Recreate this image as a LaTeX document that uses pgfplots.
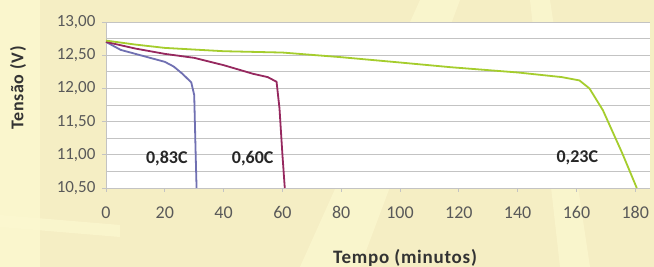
\documentclass[border=0pt]{standalone}
\usepackage{pgfplots}
\pgfplotsset{compat=1.18}
\usepackage{fontspec}
\setmainfont{Carlito}
\newfontfamily\lblfont[LetterSpace=4]{Carlito}
\usetikzlibrary{backgrounds}
\definecolor{bgyel}{RGB}{245,238,196}
\definecolor{bglight}{RGB}{252,248,208}
\definecolor{cblue}{RGB}{112,112,178}
\definecolor{cred}{RGB}{150,40,95}
\definecolor{cgreen}{RGB}{165,205,45}
\definecolor{gridc}{RGB}{195,195,195}
\begin{document}
\begin{tikzpicture}[x=1pt,y=1pt]
\begin{axis}[name=ax,
  scale only axis, width=544pt, height=166pt,
  xmin=0, xmax=185, ymin=10.5, ymax=13,
  xtick={0,20,...,180},
  ytick={10.5,11,...,13},
  minor y tick num=1,
  ymajorgrids, yminorgrids,
  grid style={gridc, line width=0.8pt},
  minor grid style={gridc, line width=0.8pt},
  axis x line*=bottom, axis y line*=left,
  axis line style={gridc, line width=0.8pt},
  tick style={gridc, line width=0.8pt},
  minor y tick style={draw=none},
  tick align=outside, major tick length=4pt,
  axis background/.style={fill=white},
  /pgf/number format/.cd, use comma, fixed, assume math mode=true,
  /pgfplots/.cd,
  yticklabel={\pgfmathprintnumber[fixed,fixed zerofill,precision=2,use comma]{\tick}},
  xticklabel style={font=\fontsize{18}{20}\selectfont, text=black!65, yshift=-11pt},
  yticklabel style={font=\fontsize{17}{19}\selectfont, text=black!65, xshift=-3pt},
  clip=false,
]
\addplot[cblue, line width=1.8pt] coordinates {
 (0,12.70) (5,12.58) (10,12.52) (15,12.46) (20,12.40) (23,12.33) (26,12.22) (29,12.09) (30,11.90) (30.5,11.0) (30.8,10.5)};
\addplot[cred, line width=1.8pt] coordinates {
 (0,12.70) (10,12.60) (20,12.52) (30,12.46) (40,12.35) (50,12.22) (55,12.17) (58,12.10) (59,11.70) (60,11.0) (60.8,10.5)};
\addplot[cgreen, line width=1.8pt] coordinates {
 (0,12.72) (10,12.66) (20,12.61) (40,12.56) (60,12.54) (80,12.47) (100,12.39) (117,12.32) (140,12.24) (155,12.17) (161,12.12) (164.4,12.0) (169,11.67) (175.6,11.02) (180.5,10.5)};
\node[font=\fontsize{18}{20}\selectfont\bfseries, text=black!85] at (axis cs:20.7,10.95) {0,83C};
\node[font=\fontsize{18}{20}\selectfont\bfseries, text=black!85] at (axis cs:49.9,10.95) {0,60C};
\node[font=\fontsize{18}{20}\selectfont\bfseries, text=black!85] at (axis cs:160.3,10.95) {0,23C};
\end{axis}
\node[font=\fontsize{19}{21}\lblfont\bfseries, text=black!80] at ([shift={(299pt,-70pt)}]ax.south west) {Tempo (minutos)};
\node[font=\fontsize{18}{20}\lblfont\bfseries, text=black!80, rotate=90] at ([shift={(-88pt,100pt)}]ax.south west) {Tensão (V)};
\begin{pgfonlayer}{background}
\fill[bgyel] ([shift={(-106pt,-79pt)}]ax.south west) rectangle ++(654pt,267pt);
\fill[bglight, opacity=0.8] ([shift={(-106pt,-79pt)}]ax.south west) rectangle ++(40pt,267pt);
\fill[bglight, opacity=0.7] ([shift={(-106pt,-79pt)}]ax.south west) ++(300pt,0) -- ++(60pt,0) -- ++(100pt,267pt) -- ++(-40pt,0) -- cycle;
\fill[bglight, opacity=0.7] ([shift={(-106pt,-79pt)}]ax.south west) ++(560pt,0) -- ++(30pt,0) -- ++(-40pt,267pt) -- ++(-20pt,0) -- cycle;
\fill[bglight, opacity=0.7] ([shift={(-106pt,-79pt)}]ax.south west) ++(0,40pt) -- ++(120pt,-10pt) -- ++(0,12pt) -- ++(-120pt,10pt) -- cycle;
\end{pgfonlayer}
\pgfresetboundingbox
\useasboundingbox ([shift={(-106pt,-79pt)}]ax.south west) rectangle ++(654pt,267pt);
\end{tikzpicture}
\end{document}
